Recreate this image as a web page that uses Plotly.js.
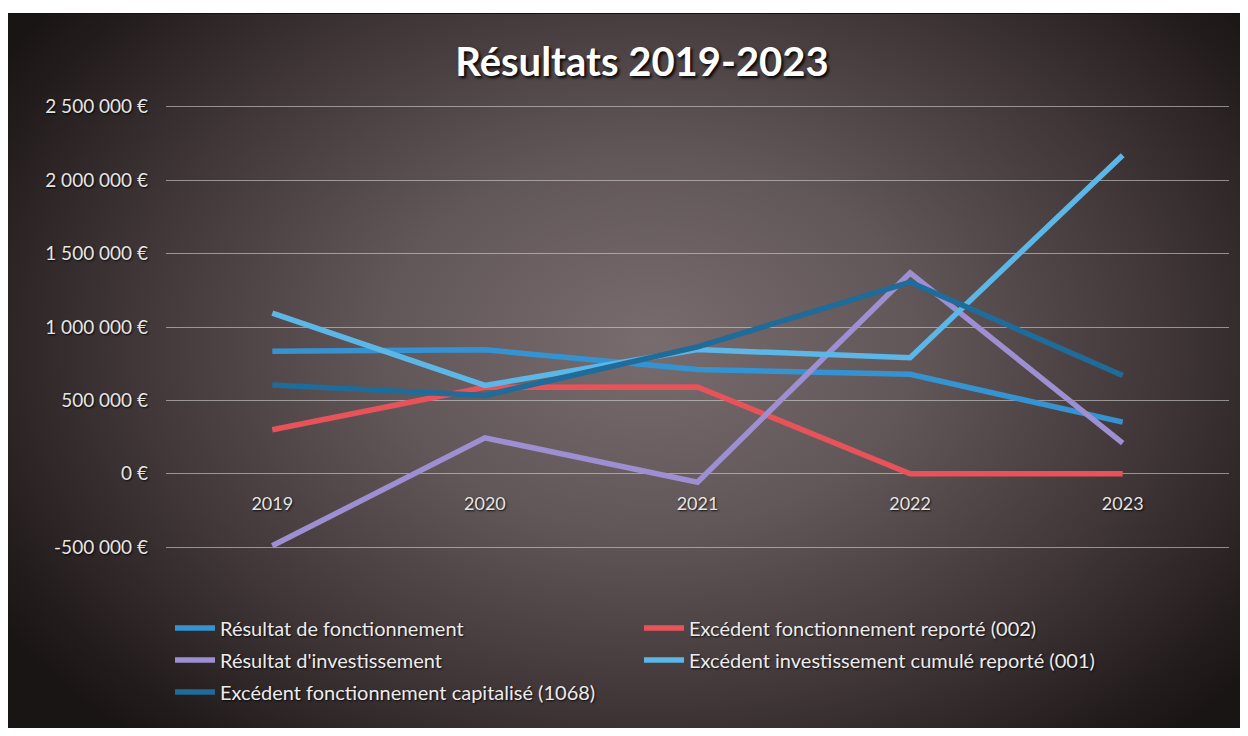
<!DOCTYPE html>
<html>
<head>
<meta charset="utf-8">
<script src="https://cdn.plot.ly/plotly-3.0.1.min.js"></script>
<style>
  html, body { margin: 0; padding: 0; background: #ffffff; }
  #wrap { position: relative; width: 1248px; height: 736px; overflow: hidden; background: #ffffff; }
  #bg {
    position: absolute; left: 8px; top: 13px; width: 1232px; height: 714px;
    border-top: 1px solid #111;
    background: radial-gradient(ellipse 62% 75% at 52% 46%, #786c6e 0%, #625758 35%, #403637 68%, #231c1d 92%, #1a1515 100%);
  }
  #chart { position: absolute; left: 0; top: 0; width: 1248px; height: 736px; }
</style>
</head>
<body>
<div id="wrap">
  <div id="bg"></div>
  <div id="chart"></div>
</div>
<script>
const categories = ['2019', '2020', '2021', '2022', '2023'];

const resultatFonctionnement   = [835000, 845000, 710000, 678000, 352000];
const excedentFonctReporte     = [300000, 590000, 592000, 0, 0];
const resultatInvestissement   = [-490000, 245000, -57000, 1368000, 209000];
const excedentInvestCumule     = [1095000, 602000, 846000, 791000, 2170000];
const excedentFonctCapitalise  = [605000, 534000, 865000, 1305000, 670000];

const seriesNames = [
  'Résultat de fonctionnement',
  'Excédent fonctionnement reporté (002)',
  "Résultat d'investissement",
  'Excédent investissement cumulé reporté (001)',
  'Excédent fonctionnement capitalisé (1068)'
];

const yTickVals = [-500000, 0, 500000, 1000000, 1500000, 2000000, 2500000];
const yTickText = ['-500 000 €', '0 €', '500 000 €', '1 000 000 €', '1 500 000 €', '2 000 000 €', '2 500 000 €'];

const seriesValues = [resultatFonctionnement, excedentFonctReporte, resultatInvestissement, excedentInvestCumule, excedentFonctCapitalise];
const seriesColors = ['#3593d2', '#e8535a', '#9d8fd2', '#5cb6e6', '#1f6b99'];
const legendRows   = ['legend', 'legend', 'legend2', 'legend2', 'legend3'];

const FONT = 'Lato, "Open Sans", sans-serif';
const txtShadow = '1px 1px 2px rgba(0,0,0,0.85)';

const traces = seriesValues.map((vals, i) => ({
  type: 'scatter',
  mode: 'lines',
  name: seriesNames[i],
  legend: legendRows[i],
  x: categories,
  y: vals,
  line: { color: seriesColors[i], width: 5.5 },
  hoverinfo: 'skip'
}));

const yMin = yTickVals[0], yMax = yTickVals[yTickVals.length - 1];
const pad = 12000;

function legendRow(yPx) {
  return {
    orientation: 'h',
    xref: 'container',
    yref: 'container',
    x: 170 / 1248,
    y: 1 - yPx / 736,
    xanchor: 'left',
    yanchor: 'middle',
    entrywidth: 414,
    entrywidthmode: 'pixels',
    bgcolor: 'rgba(0,0,0,0)',
    font: { family: FONT, size: 20, color: '#ececec', shadow: txtShadow },
    itemwidth: 40,
    traceorder: 'normal'
  };
}

const layout = {
  width: 1248,
  height: 736,
  paper_bgcolor: 'rgba(0,0,0,0)',
  plot_bgcolor: 'rgba(0,0,0,0)',
  margin: { l: 166, r: 19, t: 105, b: 187 },
  showlegend: true,
  title: {
    text: '<b>Résultats 2019-2023</b>',
    x: 642 / 1248,
    xanchor: 'center',
    xref: 'container',
    y: 1 - 62 / 736,
    yref: 'container',
    yanchor: 'middle',
    font: { family: FONT, size: 40, color: '#ffffff', shadow: '2px 2px 3px rgba(0,0,0,0.95)' }
  },
  xaxis: {
    type: 'category',
    range: [-0.5, categories.length - 0.5],
    showgrid: false,
    zeroline: false,
    showline: false,
    ticks: '',
    anchor: 'free',
    position: (0 - (yMin - pad)) / ((yMax + pad) - (yMin - pad)),
    ticklabelstandoff: 17,
    tickfont: { family: FONT, size: 18, color: '#e6e6e6', shadow: txtShadow }
  },
  yaxis: {
    range: [yMin - pad, yMax + pad],
    tickvals: yTickVals,
    ticktext: yTickText,
    showgrid: true,
    gridcolor: 'rgba(210,210,210,0.6)',
    gridwidth: 1,
    zeroline: false,
    showline: false,
    ticks: '',
    ticklabelstandoff: 17,
    tickfont: { family: FONT, size: 19, color: '#e6e6e6', shadow: txtShadow }
  },
  legend: legendRow(628),
  legend2: legendRow(660),
  legend3: legendRow(692)
};

Plotly.newPlot('chart', traces, layout, { displayModeBar: false, staticPlot: true });
</script>
</body>
</html>
